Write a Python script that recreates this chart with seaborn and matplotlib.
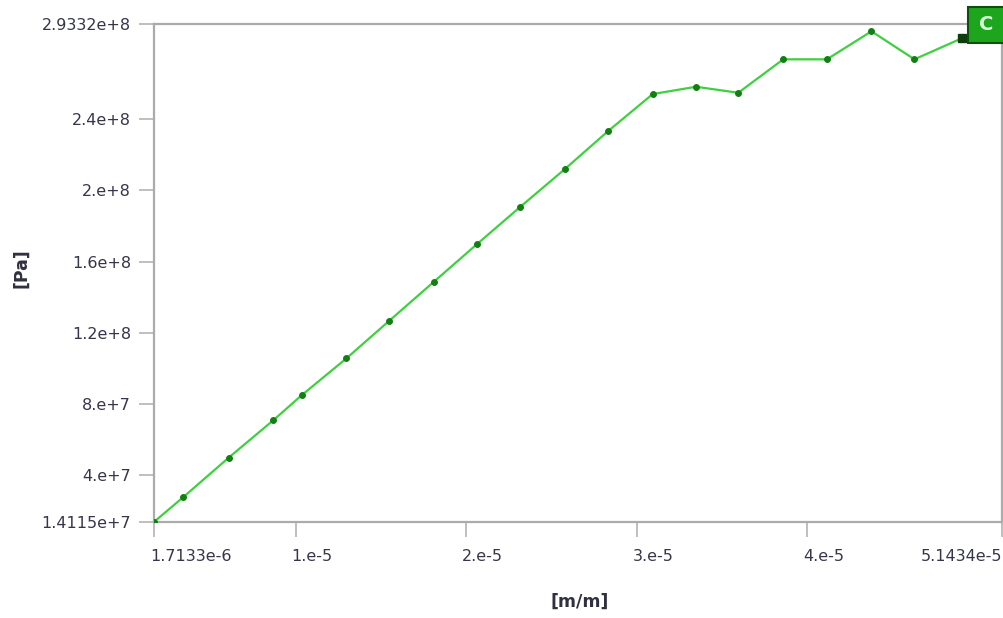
import numpy as np
import pandas as pd
import matplotlib
matplotlib.use("Agg")
import matplotlib.pyplot as plt
import seaborn as sns
from matplotlib.patches import Rectangle
from matplotlib.transforms import ScaledTranslation

# ---- data ----
strain = [1.7133e-6, 3.401e-6, 6.061e-6, 8.675e-6, 1.0339e-5, 1.2976e-5, 1.5472e-5,
          1.8091e-5, 2.0629e-5, 2.3172e-5, 2.5786e-5, 2.8305e-5, 3.0942e-5, 3.3485e-5,
          3.5964e-5, 3.8601e-5, 4.1162e-5, 4.3776e-5, 4.6295e-5, 4.9073e-5, 5.1434e-5]
stress = [1.4115e7, 2.777e7, 4.990e7, 7.086e7, 8.490e7, 1.0569e8, 1.2664e8,
          1.4855e8, 1.6973e8, 1.9069e8, 2.1187e8, 2.3305e8, 2.5400e8, 2.5810e8,
          2.5473e8, 2.7349e8, 2.7349e8, 2.8922e8, 2.7349e8, 2.8528e8, 2.9332e8]
xticks = [1.7133e-6, 1e-5, 2e-5, 3e-5, 4e-5, 5.1434e-5]
xtick_labels = ["1.7133e-6", "1.e-5", "2.e-5", "3.e-5", "4.e-5", "5.1434e-5"]
yticks = [1.4115e7, 4e7, 8e7, 1.2e8, 1.6e8, 2e8, 2.4e8, 2.9332e8]
ytick_labels = ["1.4115e+7", "4.e+7", "8.e+7", "1.2e+8", "1.6e+8", "2.e+8", "2.4e+8", "2.9332e+8"]
cursor_label = "C"
x_label = "[m/m]"
y_label = "[Pa]"

sns.set_theme(style="white")
plt.rcParams["font.family"] = ["DejaVu Sans"]

W, H = 1004, 618
fig = plt.figure(figsize=(W / 100, H / 100), dpi=100)
fig.patch.set_facecolor("white")
ax = fig.add_axes([154.5 / W, (H - 521.5) / H, (1002 - 154.5) / W, (521.5 - 24) / H])

df = pd.DataFrame({"strain": strain, "stress": stress})
sns.lineplot(data=df, x="strain", y="stress", ax=ax, color="#3fd03f", linewidth=1.6,
             marker="o", markersize=4.2, markerfacecolor="#127f12",
             markeredgecolor="#127f12", zorder=3)

# cursor marker on the point next to the probe label
ax.plot(df["strain"].iloc[-2], df["stress"].iloc[-2], marker="s", markersize=6,
        color="#0d3d0d", zorder=4, clip_on=False)

ax.set_xlim(xticks[0], xticks[-1])
ax.set_ylim(yticks[0], yticks[-1])
ax.set_xticks(xticks)
ax.set_xticklabels(xtick_labels)
ax.set_yticks(yticks)
ax.set_yticklabels(ytick_labels)

label_color = "#36364a"
ax.tick_params(axis="both", which="major", direction="out", length=11, width=1.2,
               color="#b4b4b4", labelsize=11.5, labelcolor=label_color,
               bottom=True, left=True, top=False, right=False)
ax.tick_params(axis="y", pad=6)
ax.tick_params(axis="x", pad=9)
for i, t in enumerate(ax.get_xticklabels()):
    if i == len(xtick_labels) - 1:
        t.set_ha("right")
    else:
        t.set_ha("left")
        t.set_transform(t.get_transform() + ScaledTranslation(-4 / 100, 0, fig.dpi_scale_trans))

for side in ["left", "bottom", "top", "right"]:
    ax.spines[side].set_visible(True)
    ax.spines[side].set_color("#ababab")
    ax.spines[side].set_linewidth(1.6)
ax.grid(False)

ax.set_xlabel(x_label, fontsize=12.5, fontweight="bold", color="#303040")
ax.set_ylabel(y_label, fontsize=12.5, fontweight="bold", color="#303040")
ax.xaxis.set_label_coords((580 - 154.5) / (1002 - 154.5), (521.5 - 593) / 497.5)
ax.yaxis.set_label_coords((30 - 154.5) / (1002 - 154.5), (521.5 - 268) / 497.5)

# probe label box "C"
fig.patches.append(Rectangle((968 / W, (H - 43) / H), 38 / W, 36 / H,
                             transform=fig.transFigure, facecolor="#1ea51e",
                             edgecolor="#0e4f0e", linewidth=1.5, zorder=10))
fig.text(986 / W, (H - 25) / H, cursor_label, color="#d8ffd8", fontsize=14,
         fontweight="bold", ha="center", va="center", zorder=11)

fig.savefig("out.png", dpi=100, facecolor="white")
